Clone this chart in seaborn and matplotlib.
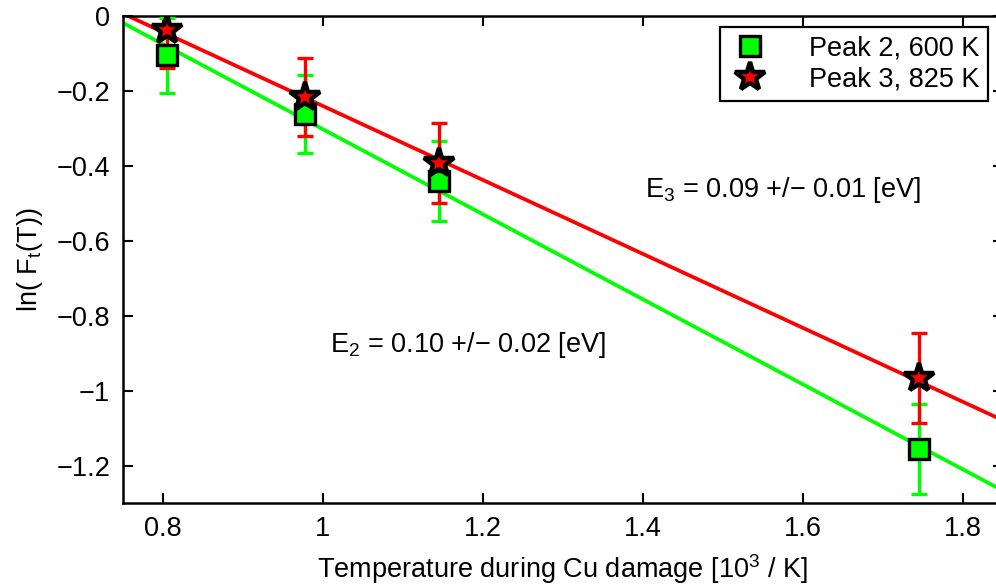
import numpy as np
import pandas as pd
import matplotlib
matplotlib.use("Agg")
import matplotlib.pyplot as plt
import seaborn as sns

# ---- data ----
x_vals = [0.805, 0.978, 1.146, 1.746]
peak2_y = [-0.105, -0.262, -0.440, -1.156]
peak2_err = [0.100, 0.104, 0.107, 0.121]
peak3_y = [-0.038, -0.216, -0.392, -0.966]
peak3_err = [0.102, 0.103, 0.106, 0.121]
fit2_slope, fit2_intercept = -1.135, 0.833
fit3_slope, fit3_intercept = -0.987, 0.747
series_labels = ["Peak 2, 600 K", "Peak 3, 825 K"]
x_ticks = [0.8, 1.0, 1.2, 1.4, 1.6, 1.8]
x_ticklabels = ["0.8", "1", "1.2", "1.4", "1.6", "1.8"]
y_ticks = [0, -0.2, -0.4, -0.6, -0.8, -1.0, -1.2]
y_ticklabels = ["0", "\u22120.2", "\u22120.4", "\u22120.6", "\u22120.8", "\u22121", "\u22121.2"]
xlim = (0.75, 1.85)
ylim = (-1.3, 0.0)

sns.set_theme(style="white")
plt.rcParams["font.family"] = ["Liberation Sans", "DejaVu Sans"]
plt.rcParams["mathtext.fontset"] = "custom"
plt.rcParams["mathtext.rm"] = "Liberation Sans"
plt.rcParams["mathtext.it"] = "Liberation Sans"
plt.rcParams["mathtext.default"] = "regular"
plt.rcParams["text.color"] = "black"
plt.rcParams["axes.labelcolor"] = "black"

GREEN = "#00ff00"
RED = "#ff0000"
FS = 19.5

fig = plt.figure(figsize=(9.96, 5.86), dpi=100)
ax = fig.add_axes([0.1232, 0.1416, 0.8835, 0.8311])

# fit lines
xl = np.array(xlim)
fit_df = pd.DataFrame({
    "x": np.concatenate([xl, xl]),
    "y": np.concatenate([fit2_intercept + fit2_slope * xl, fit3_intercept + fit3_slope * xl]),
    "s": ["fit2", "fit2", "fit3", "fit3"],
})
sns.lineplot(data=fit_df, x="x", y="y", hue="s", palette={"fit2": GREEN, "fit3": RED},
             linewidth=2.7, legend=False, ax=ax, zorder=2)

# error bars
ax.errorbar(x_vals, peak2_y, yerr=peak2_err, fmt="none", ecolor=GREEN, elinewidth=2.4,
            capsize=5.5, capthick=2.4, zorder=3)
ax.errorbar(x_vals, peak3_y, yerr=peak3_err, fmt="none", ecolor=RED, elinewidth=2.4,
            capsize=5.5, capthick=2.4, zorder=4)

# markers
h2, = ax.plot(x_vals, peak2_y, linestyle="none", marker="s", markersize=14,
              markerfacecolor=GREEN, markeredgecolor="black", markeredgewidth=2.4, zorder=5,
              label=series_labels[0])
h3, = ax.plot(x_vals, peak3_y, linestyle="none", marker="*", markersize=22,
              markerfacecolor=RED, markeredgecolor="black", markeredgewidth=3.2, zorder=6,
              label=series_labels[1])

ax.set_xlim(*xlim)
ax.set_ylim(*ylim)
ax.set_xticks(x_ticks)
ax.set_xticklabels(x_ticklabels, fontsize=FS)
ax.set_yticks(y_ticks)
ax.set_yticklabels(y_ticklabels, fontsize=FS)
ax.tick_params(direction="in", length=7, width=1.5, top=True, right=True,
               bottom=True, left=True, pad=9, colors="black", labelcolor="black")

for sp in ax.spines.values():
    sp.set_visible(True)
    sp.set_color("black")
    sp.set_linewidth(1.8)

ax.set_xlabel(r"Temperature during Cu damage [10$^3$ / K]", fontsize=FS, labelpad=8)
ax.set_ylabel(r"ln( F$_t$(T))", fontsize=FS, labelpad=8)

ax.text(1.403, -0.464, "E$_3$ = 0.09 +/\u2212 0.01 [eV]", fontsize=FS, va="center", ha="left")
ax.text(1.009, -0.878, "E$_2$ = 0.10 +/\u2212 0.02 [eV]", fontsize=FS, va="center", ha="left")

leg = ax.legend(handles=[h2, h3], loc="upper right", bbox_to_anchor=(0.983, 0.977),
                borderaxespad=0, fontsize=FS, frameon=True, fancybox=False,
                handletextpad=1.4, borderpad=0.3, labelspacing=0.2, handlelength=1.6)
leg.get_frame().set_edgecolor("black")
leg.get_frame().set_linewidth(1.6)
leg.get_frame().set_alpha(1)
leg.set_zorder(10)

fig.savefig("out.png", dpi=100)
